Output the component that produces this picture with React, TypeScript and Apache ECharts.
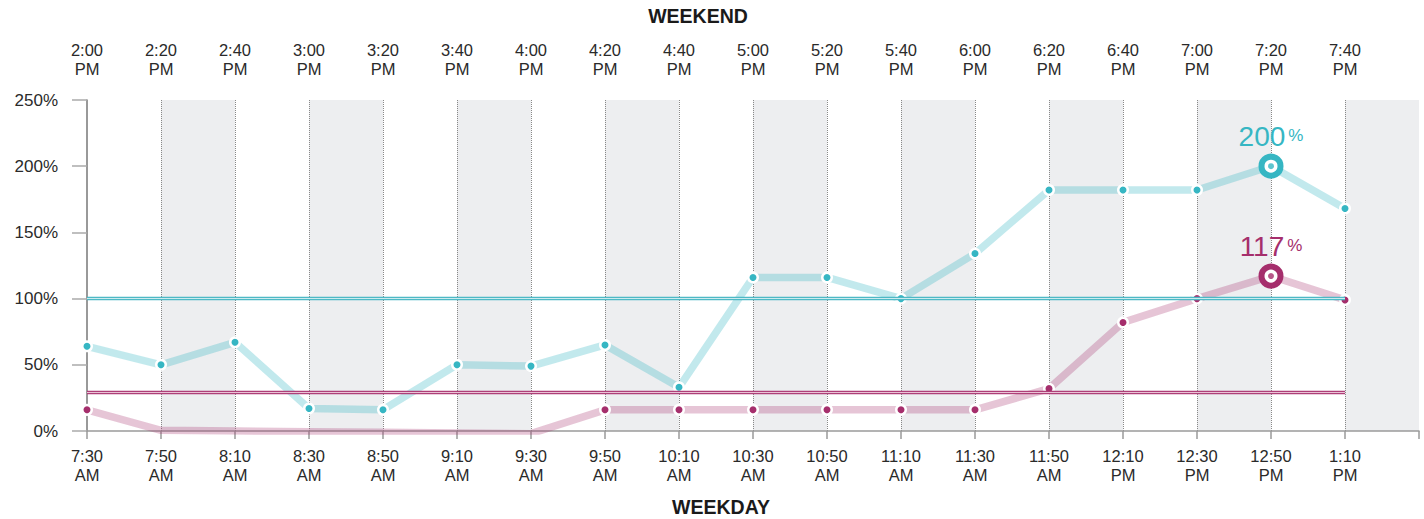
import React, { useEffect, useRef } from "react";
import * as echarts from "echarts";

const weekdayLabels = ["7:30\nAM", "7:50\nAM", "8:10\nAM", "8:30\nAM", "8:50\nAM", "9:10\nAM", "9:30\nAM", "9:50\nAM", "10:10\nAM", "10:30\nAM", "10:50\nAM", "11:10\nAM", "11:30\nAM", "11:50\nAM", "12:10\nPM", "12:30\nPM", "12:50\nPM", "1:10\nPM"];
const weekendLabels = ["2:00\nPM", "2:20\nPM", "2:40\nPM", "3:00\nPM", "3:20\nPM", "3:40\nPM", "4:00\nPM", "4:20\nPM", "4:40\nPM", "5:00\nPM", "5:20\nPM", "5:40\nPM", "6:00\nPM", "6:20\nPM", "6:40\nPM", "7:00\nPM", "7:20\nPM", "7:40\nPM"];
const weekendValues = [64, 50, 67, 17, 16, 50, 49, 65, 33, 116, 116, 100, 134, 182, 182, 182, 200, 168];
const weekdayValues = [16, 0.5, 0, -0.5, -1, -1.5, -2, 16, 16, 16, 16, 16, 16, 32, 82, 100, 117, 99];
const weekdayMarkerShown = [true, false, false, false, false, false, false, true, true, true, true, true, true, true, true, true, true, true];
const weekendAverage = 100;
const weekdayAverage = 29;
const peakIndex = 16;
const yTicks = [0, 50, 100, 150, 200, 250];

const TEAL = "#36B6C3";
const MAGENTA = "#A52E6C";
const FONT = "'Liberation Sans', Arial, sans-serif";

function buildLine(values: number[], color: string, markers: boolean[] | null) {
  return values.map((v, i) => {
    if (i === peakIndex) {
      return {
        value: [i, v],
        symbolSize: 19,
        itemStyle: { color: "#fff", borderColor: color, borderWidth: 6, opacity: 1 },
        label: {
          show: true,
          position: "top",
          distance: 3,
          formatter: "{a|" + v + "}{b|%}",
          rich: {
            a: { fontSize: 28, color, fontFamily: FONT },
            b: { fontSize: 17, color, fontFamily: FONT, padding: [0, 0, 2, 3] },
          },
        },
      };
    }
    if (markers && !markers[i]) {
      return { value: [i, v], symbol: "none" };
    }
    return { value: [i, v] };
  });
}

export default function App() {
  const ref = useRef<HTMLDivElement>(null);
  useEffect(() => {
    if (!ref.current) return;
    const chart = echarts.init(ref.current, undefined, { renderer: "svg" });
    const lastIdx = weekdayLabels.length - 1;
    const makeAvg = (val: number, outer: string, inner: string, z: number) => [
      {
        type: "line",
        data: [],
        z,
        markLine: {
          silent: true,
          symbol: ["none", "none"],
          label: { show: false },
          lineStyle: { color: outer, width: 3.4, type: "solid" },
          data: [[{ coord: [0, val] }, { coord: [lastIdx, val] }]],
        },
      },
      {
        type: "line",
        data: [],
        z: z + 0.1,
        markLine: {
          silent: true,
          symbol: ["none", "none"],
          label: { show: false },
          lineStyle: { color: inner, width: 1, type: "solid" },
          data: [[{ coord: [0, val] }, { coord: [lastIdx, val] }]],
        },
      },
    ];
    const option: any = {
      animation: false,
      textStyle: { fontFamily: FONT },
      grid: { left: 87, right: 5, top: 100, bottom: 88, containLabel: false },
      xAxis: [
        {
          type: "value",
          min: 0,
          max: 18,
          interval: 1,
          position: "bottom",
          axisLine: { show: true, lineStyle: { color: "#9a9a9a", width: 1.5 } },
          axisTick: { show: true, length: 8, lineStyle: { color: "#9a9a9a", width: 1.5 } },
          axisLabel: {
            formatter: (v: number) => weekdayLabels[v] ?? "",
            fontSize: 16.5,
            color: "#2a2a2a",
            lineHeight: 19,
            margin: 15,
            fontFamily: FONT,
          },
          splitLine: {
            show: true,
            showMinLine: false,
            showMaxLine: false,
            lineStyle: { type: "dotted", color: "#888", width: 1 },
          },
          splitArea: { show: true, areaStyle: { color: ["rgba(0,0,0,0)", "#EDEEF0"] } },
        },
        {
          type: "value",
          min: 0,
          max: 18,
          interval: 1,
          position: "top",
          axisLine: { show: false },
          axisTick: { show: false },
          splitLine: { show: false },
          axisLabel: {
            formatter: (v: number) => weekendLabels[v] ?? "",
            fontSize: 16.5,
            color: "#2a2a2a",
            lineHeight: 19,
            margin: 22,
            fontFamily: FONT,
          },
        },
      ],
      yAxis: {
        type: "value",
        min: yTicks[0],
        max: yTicks[yTicks.length - 1],
        interval: 50,
        axisLine: { show: true, lineStyle: { color: "#777", width: 1.5 } },
        axisTick: { show: true, length: 15, lineStyle: { color: "#aaa", width: 1.5 } },
        axisLabel: { formatter: "{value}%", fontSize: 17, color: "#2a2a2a", margin: 29, fontFamily: FONT },
        splitLine: { show: false },
      },
      series: [
        ...makeAvg(weekendAverage, "#4DB9C5", "#CBEBEF", 2),
        ...makeAvg(weekdayAverage, "#AE3F78", "#EAC3D6", 2),
        {
          type: "line",
          name: "Weekend",
          z: 4,
          data: buildLine(weekendValues, TEAL, null),
          showAllSymbol: true,
          symbol: "circle",
          symbolSize: 9.5,
          itemStyle: { color: TEAL, borderColor: "#fff", borderWidth: 2.5 },
          lineStyle: { color: TEAL, width: 7.5, opacity: 0.3 },
        },
        {
          type: "line",
          name: "Weekday",
          z: 4,
          data: buildLine(weekdayValues, MAGENTA, weekdayMarkerShown),
          showAllSymbol: true,
          symbol: "circle",
          symbolSize: 9.5,
          itemStyle: { color: MAGENTA, borderColor: "#fff", borderWidth: 2.5 },
          lineStyle: { color: MAGENTA, width: 7.5, opacity: 0.28 },
        },
        {
          type: "scatter",
          z: 6,
          symbolSize: 6,
          data: [
            { value: [peakIndex, weekendValues[peakIndex]], itemStyle: { color: TEAL } },
            { value: [peakIndex, weekdayValues[peakIndex]], itemStyle: { color: MAGENTA } },
          ],
        },
      ],
      graphic: [
        {
          type: "text",
          x: 698,
          y: 16,
          style: {
            text: "WEEKEND",
            font: "bold 19.5px " + FONT,
            fill: "#1a1a1a",
            textAlign: "center",
            textVerticalAlign: "middle",
          },
        },
        {
          type: "text",
          x: 721,
          y: 507,
          style: {
            text: "WEEKDAY",
            font: "bold 19.5px " + FONT,
            fill: "#1a1a1a",
            textAlign: "center",
            textVerticalAlign: "middle",
          },
        },
      ],
    };
    chart.setOption(option);
    return () => chart.dispose();
  }, []);
  return (
    <div
      ref={ref}
      style={{ position: "fixed", left: 0, top: 0, width: 1424, height: 519, background: "#fff" }}
    />
  );
}
